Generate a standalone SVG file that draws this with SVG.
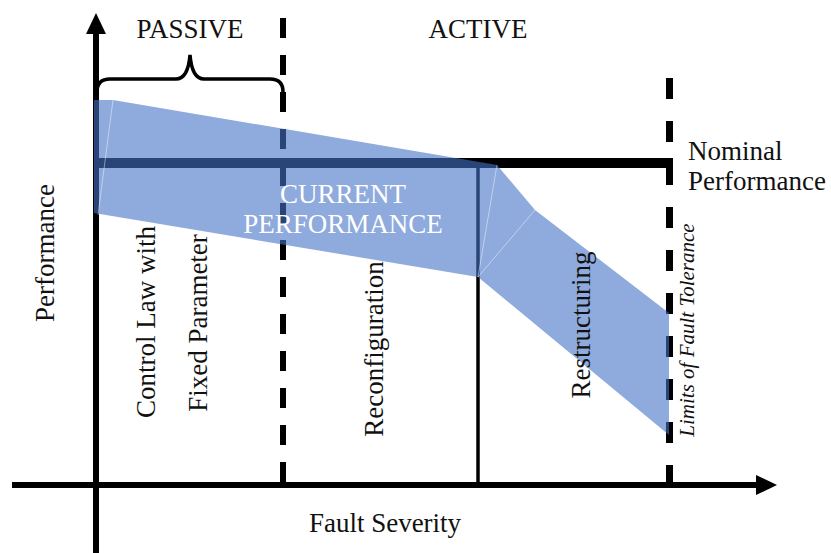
<svg xmlns="http://www.w3.org/2000/svg" width="831" height="553" viewBox="0 0 831 553">
  <style>
    .lbl { font-family: "Liberation Serif", "Times New Roman", serif; font-size: 27px; fill: #111; }
    .mid { text-anchor: middle; }
    .axis { stroke: #000; stroke-width: 6; fill: none; }
    .divider { stroke: #000; fill: none; }
    .seam { stroke: #ffffff; stroke-opacity: 0.45; stroke-width: 1; fill: none; }
  </style>
  <defs>
    <marker id="arrow" viewBox="0 0 21 20" refX="1" refY="10" markerWidth="21" markerHeight="20" markerUnits="userSpaceOnUse" orient="auto">
      <path d="M0,0 L21,10 L0,20 Z" fill="#000"/>
    </marker>
  </defs>

  <rect width="831" height="553" fill="#fff"/>

  <!-- axes -->
  <g id="axes">
    <line class="axis" x1="12" y1="485" x2="757" y2="485" marker-end="url(#arrow)"/>
    <line class="axis" x1="96" y1="553" x2="96" y2="33" marker-end="url(#arrow)"/>
  </g>

  <!-- region boundaries and nominal level -->
  <g id="connectors">
    <line class="divider" x1="283" y1="18" x2="283" y2="485" stroke-width="6" stroke-dasharray="20 17"/>
    <line class="divider" x1="669.5" y1="78" x2="669.5" y2="485" stroke-width="7" stroke-dasharray="21 22"/>
    <line class="divider" x1="478" y1="163" x2="478" y2="485" stroke-width="3.5"/>
    <line class="divider" x1="96" y1="163" x2="673" y2="163" stroke-width="10"/>
    <path id="passive-brace" class="divider" stroke-width="3.5" d="M97,92 Q97,79 110,79 L176,79 Q188,79 190,55 Q192,79 204,79 L270,79 Q283,79 283,92"/>
  </g>

  <!-- current performance band -->
  <g id="band">
    <polygon points="94,100 113,100 497,165 535,210 669,313 669,435 478,277 94,213" fill="#4472c4" fill-opacity="0.6"/>
    <line class="seam" x1="113" y1="100" x2="98" y2="215"/>
    <line class="seam" x1="478" y1="277" x2="497" y2="165"/>
    <line class="seam" x1="478" y1="277" x2="535" y2="210"/>
  </g>

  <!-- labels -->
  <g id="labels">
    <text class="lbl mid" x="190" y="38">PASSIVE</text>
    <text class="lbl mid" x="478" y="38">ACTIVE</text>
    <text class="lbl" x="688" y="160" font-size="26">Nominal</text>
    <text class="lbl" x="688" y="190" font-size="26">Performance</text>
    <text class="lbl mid" x="385" y="532">Fault Severity</text>
    <text class="lbl mid" x="343" y="203" fill="#ffffff" style="fill:#ffffff">CURRENT</text>
    <text class="lbl mid" x="343" y="233" style="fill:#ffffff">PERFORMANCE</text>
    <text class="lbl mid" transform="translate(54,253) rotate(-90)">Performance</text>
    <text class="lbl mid" transform="translate(155,322) rotate(-90)">Control Law with</text>
    <text class="lbl mid" transform="translate(207,323) rotate(-90)">Fixed Parameter</text>
    <text class="lbl mid" transform="translate(383,349) rotate(-90)">Reconfiguration</text>
    <text class="lbl mid" transform="translate(590,325) rotate(-90)">Restructuring</text>
    <text class="lbl mid" transform="translate(694,330) rotate(-90)" style="font-size:21px;font-style:italic">Limits of Fault Tolerance</text>
  </g>
</svg>
